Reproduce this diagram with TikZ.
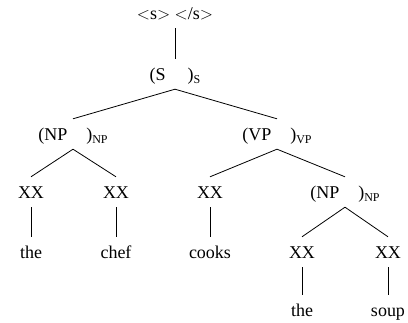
\documentclass[tikz,border=0pt]{standalone}
\usepackage{fontspec}
\setmainfont{Liberation Serif}
\begin{document}
\begin{tikzpicture}[x=1pt,y=-1pt,
  lab/.style={anchor=base,font=\fontsize{18}{20}\selectfont,
    text height=18pt,text depth=4pt,inner ysep=4pt,inner xsep=0pt},
  branch/.style={line width=0.8pt}]
\useasboundingbox (0,0) rectangle (408,323);
\newcommand{\bracketed}[1]{(#1\hspace{19pt})\raisebox{-0.35ex}{\fontsize{12}{12}\selectfont #1}}
% nodes (base points)
\node[lab] (root) at (175,20) {$<$s$>$ $<$/s$>$};
\node[lab] (s)    at (175,81) {(S\hspace{22pt})\raisebox{-0.35ex}{\fontsize{12}{12}\selectfont S}};
\node[lab] (np1)  at (73,141) {\bracketed{NP}};
\node[lab] (vp)   at (277,141) {\bracketed{VP}};
\node[lab] (xx1)  at (31,199) {XX};
\node[lab] (xx2)  at (116,199) {XX};
\node[lab] (xx3)  at (210,199) {XX};
\node[lab] (np2)  at (345,199) {\bracketed{NP}};
\node[lab] (w1)   at (31,259) {the};
\node[lab] (w2)   at (116,259) {chef};
\node[lab] (w3)   at (210,259) {cooks};
\node[lab] (xx4)  at (302,259) {XX};
\node[lab] (xx5)  at (388,259) {XX};
\node[lab] (w4)   at (302,317) {the};
\node[lab] (w5)   at (388,317) {soup};
% branches
\draw[branch] (root.south) -- (s.north);
\draw[branch] (s.south) -- (np1.north);
\draw[branch] (s.south) -- (vp.north);
\draw[branch] (np1.south) -- (xx1.north);
\draw[branch] (np1.south) -- (xx2.north);
\draw[branch] (vp.south) -- (xx3.north);
\draw[branch] (vp.south) -- (np2.north);
\draw[branch] (xx1.south) -- (w1.north);
\draw[branch] (xx2.south) -- (w2.north);
\draw[branch] (xx3.south) -- (w3.north);
\draw[branch] (np2.south) -- (xx4.north);
\draw[branch] (np2.south) -- (xx5.north);
\draw[branch] (xx4.south) -- (w4.north);
\draw[branch] (xx5.south) -- (w5.north);
\end{tikzpicture}
\end{document}
